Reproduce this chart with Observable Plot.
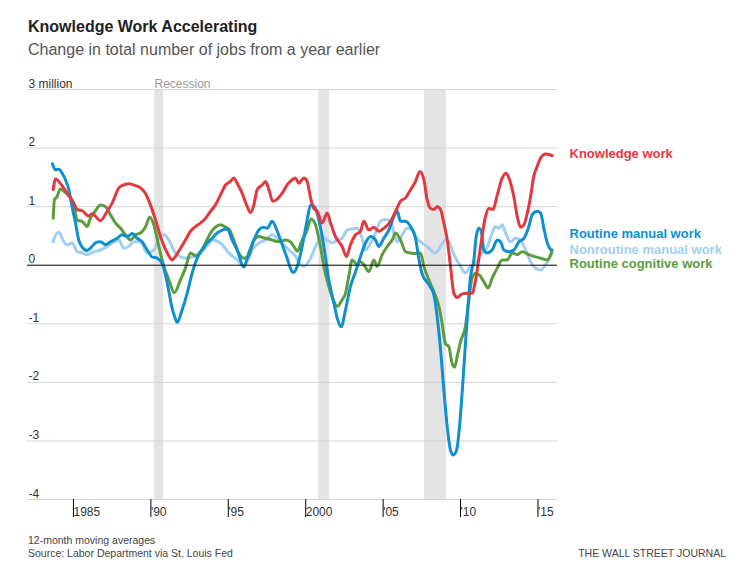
<!DOCTYPE html>
<html><head><meta charset="utf-8">
<script src="https://cdn.jsdelivr.net/npm/d3@7"></script>
<script src="https://cdn.jsdelivr.net/npm/@observablehq/plot@0.6"></script>
<style>
body{margin:0;background:#fff;font-family:"Liberation Sans",Arial,sans-serif;}
#wrap{position:relative;width:748px;height:580px;overflow:hidden;background:#fff;}
.t{position:absolute;white-space:nowrap;}
#title{left:28px;top:18px;font-size:16px;font-weight:bold;color:#222;}
#sub{left:28px;top:41px;font-size:16px;color:#555;}
#chart{position:absolute;left:0;top:60px;}
#note{left:28px;top:534px;font-size:10.5px;color:#444;}
#src{left:28px;top:547px;font-size:10.5px;color:#444;}
#wsj{right:22px;top:547px;font-size:10.5px;color:#444;}
</style></head>
<body>
<div id="wrap">
  <div class="t" id="title">Knowledge Work Accelerating</div>
  <div class="t" id="sub">Change in total number of jobs from a year earlier</div>
  <div id="chart"></div>
  <div class="t" id="note">12-month moving averages</div>
  <div class="t" id="src">Source: Labor Department via St. Louis Fed</div>
  <div class="t" id="wsj">THE WALL STREET JOURNAL</div>
</div>
<script>
// ---- data (year, million jobs change) ----
const knowledge = [[1983.95,1.29],[1984.1,1.47],[1984.4,1.40],[1984.85,1.23],[1985.28,1.06],[1985.5,0.95],[1985.82,0.93],[1986.25,0.84],[1986.46,0.88],[1987.0,0.76],[1987.43,0.92],[1987.76,1.06],[1988.19,1.32],[1988.4,1.36],[1988.83,1.39],[1989.26,1.36],[1989.59,1.32],[1989.9,1.23],[1990.23,1.03],[1990.56,0.77],[1990.88,0.49],[1991.2,0.27],[1991.52,0.12],[1991.63,0.09],[1991.85,0.15],[1992.17,0.29],[1992.49,0.43],[1992.82,0.58],[1993.14,0.66],[1993.46,0.72],[1993.79,0.80],[1994.11,0.92],[1994.43,1.03],[1994.75,1.20],[1995.08,1.37],[1995.4,1.43],[1995.61,1.49],[1995.83,1.40],[1996.15,1.23],[1996.48,1.00],[1996.69,0.90],[1996.91,1.03],[1997.12,1.29],[1997.45,1.37],[1997.66,1.43],[1997.88,1.29],[1998.13,1.09],[1998.42,1.13],[1998.74,1.23],[1999.06,1.37],[1999.38,1.46],[1999.6,1.49],[1999.81,1.40],[2000.14,1.49],[2000.35,1.43],[2000.57,1.15],[2000.78,0.97],[2001.0,0.92],[2001.32,0.72],[2001.65,0.89],[2001.86,0.72],[2002.18,0.49],[2002.61,0.32],[2002.89,0.15],[2003.15,0.35],[2003.48,0.52],[2003.8,0.58],[2004.01,0.75],[2004.34,0.60],[2004.66,0.65],[2004.98,0.58],[2005.3,0.63],[2005.74,0.75],[2006.06,0.92],[2006.38,1.09],[2006.71,1.15],[2007.03,1.29],[2007.35,1.43],[2007.63,1.60],[2007.89,1.46],[2008.1,1.12],[2008.32,0.97],[2008.53,0.95],[2008.75,1.00],[2008.97,0.95],[2009.18,0.72],[2009.4,0.43],[2009.61,-0.02],[2009.83,-0.48],[2010.04,-0.55],[2010.37,-0.49],[2010.69,-0.48],[2011.01,-0.48],[2011.23,-0.25],[2011.55,0.32],[2011.87,0.83],[2012.09,0.97],[2012.35,0.95],[2012.63,1.20],[2012.95,1.49],[2013.21,1.57],[2013.42,1.46],[2013.7,1.17],[2013.92,0.83],[2014.13,0.65],[2014.35,0.69],[2014.57,0.89],[2014.78,1.17],[2014.99,1.52],[2015.21,1.69],[2015.43,1.83],[2015.75,1.90],[2015.96,1.89],[2016.18,1.87]];

const routineManual = [[1983.9,1.73],[1984.1,1.63],[1984.31,1.64],[1984.53,1.57],[1984.74,1.46],[1984.96,1.29],[1985.17,1.00],[1985.39,0.72],[1985.6,0.43],[1985.82,0.31],[1986.14,0.25],[1986.35,0.29],[1986.68,0.38],[1987.0,0.40],[1987.33,0.35],[1987.65,0.40],[1988.08,0.46],[1988.4,0.52],[1988.73,0.49],[1989.05,0.54],[1989.37,0.46],[1989.69,0.40],[1990.02,0.26],[1990.34,0.14],[1990.66,0.12],[1990.98,0.03],[1991.2,-0.16],[1991.42,-0.45],[1991.6,-0.70],[1991.85,-0.92],[1991.95,-0.98],[1992.28,-0.76],[1992.6,-0.48],[1992.92,-0.14],[1993.25,0.12],[1993.57,0.26],[1993.89,0.38],[1994.22,0.46],[1994.54,0.55],[1994.86,0.60],[1995.19,0.62],[1995.51,0.43],[1995.83,0.26],[1996.26,-0.03],[1996.58,0.21],[1996.91,0.43],[1997.23,0.60],[1997.55,0.65],[1997.77,0.63],[1998.09,0.75],[1998.42,0.58],[1998.74,0.35],[1999.06,0.12],[1999.38,-0.11],[1999.49,-0.12],[1999.71,-0.02],[2000.03,0.32],[2000.35,0.77],[2000.57,1.03],[2000.83,1.00],[2001.11,0.77],[2001.43,0.32],[2001.75,-0.25],[2002.08,-0.65],[2002.3,-0.91],[2002.55,-1.05],[2002.83,-0.76],[2003.15,-0.36],[2003.48,-0.11],[2003.8,0.15],[2004.12,0.38],[2004.45,0.49],[2004.77,0.43],[2004.98,0.32],[2005.3,0.46],[2005.63,0.60],[2005.95,0.83],[2006.17,0.92],[2006.38,0.75],[2006.71,0.75],[2007.03,0.66],[2007.35,0.46],[2007.57,0.10],[2007.78,-0.15],[2008.21,-0.33],[2008.53,-0.50],[2008.75,-0.88],[2008.97,-1.45],[2009.18,-2.13],[2009.4,-2.76],[2009.61,-3.16],[2009.78,-3.24],[2010.0,-3.16],[2010.21,-2.70],[2010.43,-1.91],[2010.65,-1.05],[2010.9,-0.20],[2011.12,0.09],[2011.27,0.49],[2011.44,0.63],[2011.6,0.58],[2011.76,0.26],[2011.97,0.21],[2012.3,0.26],[2012.63,0.43],[2012.84,0.40],[2013.06,0.26],[2013.38,0.23],[2013.7,0.26],[2014.03,0.40],[2014.35,0.46],[2014.67,0.66],[2014.88,0.86],[2015.21,0.92],[2015.43,0.89],[2015.64,0.63],[2015.86,0.38],[2016.07,0.27]];

const nonroutineManual = [[1983.95,0.40],[1984.2,0.55],[1984.37,0.56],[1984.57,0.43],[1984.85,0.35],[1985.17,0.38],[1985.5,0.23],[1985.82,0.21],[1986.14,0.18],[1986.57,0.23],[1987.0,0.26],[1987.43,0.32],[1987.76,0.38],[1988.19,0.43],[1988.51,0.29],[1988.83,0.32],[1989.15,0.40],[1989.59,0.40],[1990.02,0.21],[1990.45,0.26],[1990.77,0.45],[1991.1,0.52],[1991.42,0.43],[1991.85,0.21],[1992.49,0.12],[1993.14,0.16],[1993.79,0.30],[1994.22,0.43],[1994.75,0.38],[1995.29,0.21],[1995.83,0.09],[1996.26,-0.02],[1996.8,0.26],[1997.23,0.38],[1997.66,0.43],[1998.09,0.52],[1998.42,0.46],[1998.74,0.38],[1999.17,0.26],[1999.6,0.15],[1999.9,0.02],[2000.14,-0.02],[2000.57,0.12],[2001.0,0.38],[2001.32,0.49],[2001.65,0.43],[2001.97,0.38],[2002.29,0.43],[2002.61,0.46],[2002.93,0.60],[2003.26,0.62],[2003.58,0.63],[2003.9,0.46],[2004.12,0.26],[2004.45,0.38],[2004.77,0.55],[2005.09,0.75],[2005.41,0.78],[2005.74,0.75],[2005.95,0.55],[2006.17,0.40],[2006.49,0.52],[2006.81,0.63],[2007.14,0.60],[2007.46,0.45],[2007.78,0.38],[2008.21,0.29],[2008.64,0.21],[2008.97,0.32],[2009.29,0.43],[2009.5,0.40],[2009.83,0.18],[2010.26,-0.02],[2010.58,-0.13],[2010.9,-0.02],[2011.23,0.03],[2011.66,0.21],[2011.97,0.30],[2012.3,0.55],[2012.52,0.66],[2012.74,0.63],[2012.95,0.69],[2013.17,0.55],[2013.49,0.40],[2013.81,0.46],[2014.13,0.43],[2014.46,0.26],[2014.78,0.06],[2015.1,-0.05],[2015.43,-0.08],[2015.75,0.01],[2016.07,0.15],[2016.18,0.20]];

const routineCognitive = [[1983.95,0.80],[1984.03,1.12],[1984.2,1.17],[1984.4,1.30],[1984.74,1.24],[1985.07,1.15],[1985.28,1.03],[1985.5,0.77],[1985.82,0.75],[1986.14,0.66],[1986.35,0.80],[1986.68,0.93],[1987.0,1.03],[1987.33,1.00],[1987.65,0.86],[1987.98,0.72],[1988.3,0.63],[1988.62,0.52],[1988.94,0.43],[1989.26,0.52],[1989.59,0.55],[1989.9,0.65],[1990.19,0.82],[1990.45,0.69],[1990.77,0.32],[1991.1,-0.02],[1991.42,-0.25],[1991.78,-0.47],[1992.17,-0.25],[1992.49,-0.05],[1992.82,0.21],[1993.14,0.16],[1993.46,0.23],[1993.79,0.38],[1994.11,0.55],[1994.43,0.65],[1994.75,0.69],[1995.08,0.65],[1995.34,0.60],[1995.61,0.43],[1995.93,0.21],[1996.26,0.12],[1996.58,0.15],[1996.91,0.43],[1997.23,0.49],[1997.66,0.46],[1998.09,0.43],[1998.52,0.40],[1998.95,0.43],[1999.27,0.40],[1999.49,0.32],[1999.71,0.24],[2000.03,0.43],[2000.35,0.60],[2000.6,0.79],[2000.89,0.69],[2001.21,0.32],[2001.43,-0.02],[2001.75,-0.36],[2002.08,-0.62],[2002.3,-0.70],[2002.61,-0.59],[2002.83,-0.48],[2003.04,-0.19],[2003.26,0.09],[2003.58,0.01],[2003.8,0.06],[2004.01,0.01],[2004.34,-0.11],[2004.66,0.09],[2004.87,-0.02],[2005.2,0.18],[2005.52,0.32],[2005.84,0.43],[2006.06,0.55],[2006.38,0.43],[2006.71,0.23],[2007.03,0.21],[2007.35,0.20],[2007.67,0.21],[2007.89,-0.02],[2008.21,-0.25],[2008.53,-0.45],[2008.86,-0.70],[2009.07,-1.00],[2009.29,-1.34],[2009.5,-1.39],[2009.72,-1.68],[2009.87,-1.74],[2010.08,-1.51],[2010.29,-1.28],[2010.57,-1.05],[2010.79,-0.60],[2011.0,-0.22],[2011.2,-0.14],[2011.48,-0.17],[2011.76,-0.28],[2012.04,-0.39],[2012.3,-0.22],[2012.63,-0.05],[2012.95,0.09],[2013.27,0.09],[2013.6,0.21],[2013.92,0.18],[2014.24,0.23],[2014.67,0.18],[2014.99,0.15],[2015.43,0.12],[2015.86,0.09],[2016.07,0.18],[2016.18,0.26]];

const recessions = [[1990.49,1991.09],[2001.1,2001.81],[2007.93,2009.35]];
const yTicks = [-4,-3,-2,-1,0,1,2,3];
const yTickLabels = ["-4","-3","-2","-1","0","1","2","3 million"];
const xTicks = [1985,1990,1995,2000,2005,2010,2015];
const xTickLabels = ["1985","'90","'95","2000","'05","'10","'15"];
const seriesNames = ["Knowledge work","Routine manual work","Nonroutine manual work","Routine cognitive work"];

// ---- styling / layout (not data) ----
const colors = {"Knowledge work":"#e2383f","Routine manual work":"#0f8fd0","Nonroutine manual work":"#a2cff0","Routine cognitive work":"#5b9c3e"};
const labelPos = {"Knowledge work":1.91,"Routine manual work":0.53,"Nonroutine manual work":0.27,"Routine cognitive work":0.02};
const seriesData = {"Knowledge work":knowledge,"Routine manual work":routineManual,"Nonroutine manual work":nonroutineManual,"Routine cognitive work":routineCognitive};
const drawOrder = ["Nonroutine manual work","Routine cognitive work","Routine manual work","Knowledge work"];
const xDomain = [1982.29, 2016.52];

const lineMarks = drawOrder.map(name => Plot.line(seriesData[name], {
  x: d => d[0], y: d => d[1], stroke: colors[name], strokeWidth: 3, curve: "monotone-x", strokeLinejoin: "round"
}));

const chart = Plot.plot({
  width: 748, height: 470,
  marginTop: 29, marginBottom: 31, marginLeft: 27, marginRight: 191,
  style: {fontFamily: "'Liberation Sans', Arial, sans-serif", background: "#fff", overflow: "visible"},
  x: {domain: xDomain, axis: null},
  y: {domain: [-4, 3], axis: null},
  marks: [
    Plot.rectX(recessions, {x1: d => d[0], x2: d => d[1], fill: "#e4e4e4"}),
    Plot.ruleY(yTicks.filter(d => d !== 0), {stroke: "#d4d4d4", strokeWidth: 1}),
    Plot.text(yTicks, {y: d => d, frameAnchor: "left", text: (d, i) => yTickLabels[i], textAnchor: "start", lineAnchor: "bottom", dx: 1, dy: -2, fontSize: 12, fill: "#333"}),
    Plot.text([recessions[0]], {x: d => d[0], y: 3, text: () => "Recession", textAnchor: "start", lineAnchor: "bottom", dy: -2, fontSize: 12, fill: "#999"}),
    Plot.axisX({ticks: xTicks, tickFormat: (d) => xTickLabels[xTicks.indexOf(d)], tickSize: 18, tickPadding: -10, textAnchor: "start", dx: 4, fontSize: 12, stroke: "#000", strokeWidth: 1, fill: "#333", label: null}),
    ...lineMarks,
    Plot.ruleY([0], {stroke: "#000", strokeWidth: 1}),
    Plot.text(seriesNames, {x: xDomain[1], y: d => labelPos[d], text: d => d, fill: d => colors[d], textAnchor: "start", dx: 12, fontSize: 13, fontWeight: "bold"})
  ]
});
document.getElementById("chart").appendChild(chart);
</script>
</body></html>
